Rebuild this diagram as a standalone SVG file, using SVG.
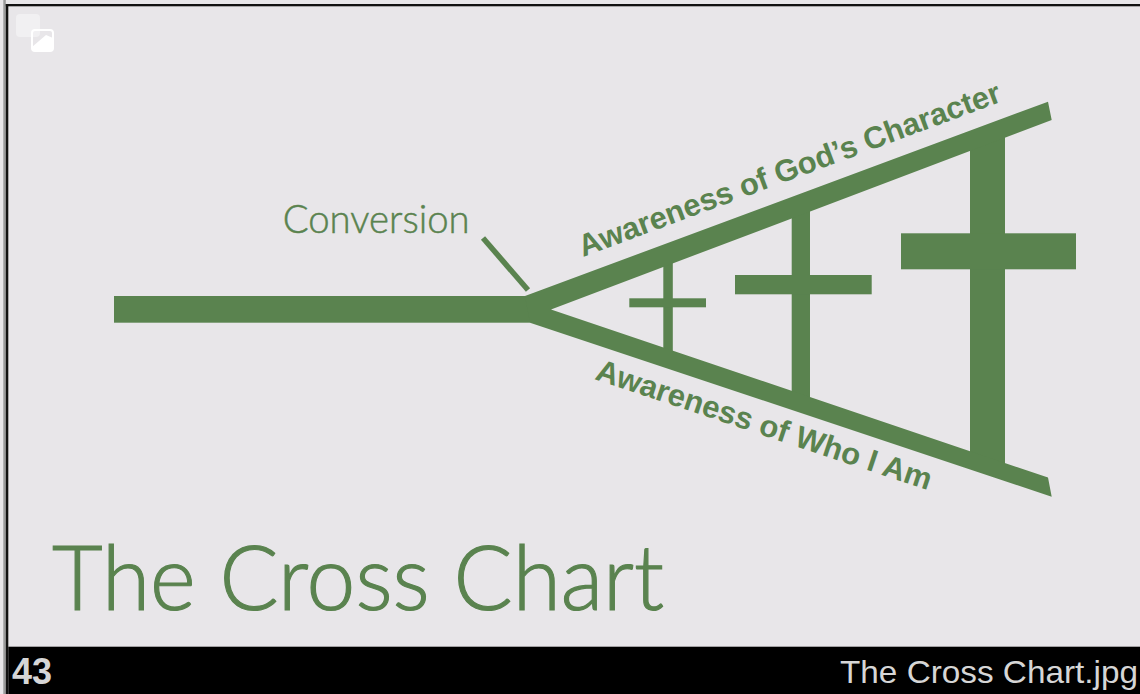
<svg xmlns="http://www.w3.org/2000/svg" width="1140" height="694" viewBox="0 0 1140 694">
  <style>
    .g { fill: #5a834f; }
    .lbl { font-family: "Liberation Sans", Arial, sans-serif; font-weight: bold; font-size: 30.8px; fill: #5a834f; }
    .thin { font-family: Lato, "Liberation Sans", Arial, sans-serif; font-weight: 300; fill: #5a834f; stroke: #5a834f; }
    .bar { font-family: "Liberation Sans", Arial, sans-serif; fill: #d6d6d6; }
  </style>
  <rect x="0" y="0" width="1140" height="694" fill="#e8e6e9"/>
  <!-- frame -->
  <rect x="3.3" y="0" width="2.5" height="694" fill="#9a9a9a"/>
  <rect x="5.8" y="4" width="1134.2" height="2.3" fill="#111"/>
  <rect x="5.8" y="4" width="2.5" height="690" fill="#111"/>
  <!-- broken image icon -->
  <g id="icon">
    <rect x="16" y="14" width="24" height="23" rx="4" fill="#f1f0f2"/>
    <rect x="32" y="30" width="21" height="21" rx="3" fill="none" stroke="#ffffff" stroke-width="2"/>
    <polygon points="32,51 32,47 46,35 53,38 53,51" fill="#ffffff"/>
  </g>
  <g id="horizontal-line">
    <rect class="g" x="114" y="296" width="416" height="26.7"/>
  </g>
  <g id="cross-small">
    <rect class="g" x="663.3" y="258" width="9.5" height="96"/>
    <rect class="g" x="629.3" y="298.3" width="76.7" height="9"/>
  </g>
  <g id="cross-medium">
    <rect class="g" x="791.7" y="205" width="18.3" height="195"/>
    <rect class="g" x="735" y="275" width="136.7" height="19.3"/>
  </g>
  <g id="cross-large">
    <rect class="g" x="970" y="136" width="35" height="330"/>
    <rect class="g" x="901" y="233.3" width="175" height="36"/>
  </g>
  <g id="branches">
    <polygon class="g" points="525,296 1048,101.7 1051.7,120 551,309.5 1048,477.6 1051.7,496.7 530,322.7"/>
  </g>
  <g id="label-god">
    <text class="lbl" x="583" y="257" transform="rotate(-20.38 583 257)" textLength="448" lengthAdjust="spacingAndGlyphs">Awareness of God’s Character</text>
  </g>
  <g id="label-me">
    <text class="lbl" x="594" y="379" transform="rotate(18.43 594 379)" textLength="352" lengthAdjust="spacingAndGlyphs">Awareness of Who I Am</text>
  </g>
  <g id="label-conversion">
    <text class="thin" x="282.7" y="233.3" font-size="39" stroke-width="0.5" textLength="187" lengthAdjust="spacingAndGlyphs">Conversion</text>
  </g>
  <g id="connectors">
    <line x1="483" y1="238" x2="528" y2="290" stroke="#5a834f" stroke-width="5.5"/>
  </g>
  <g id="title">
    <text class="thin" x="52" y="610" font-size="90" stroke-width="1.2" textLength="612" lengthAdjust="spacingAndGlyphs">The Cross Chart</text>
  </g>
  <g id="footer">
    <rect x="8.3" y="646.7" width="1131.7" height="47.3" fill="#000"/>
    <text class="bar" x="12" y="684" font-size="36" font-weight="bold">43</text>
    <text class="bar" x="840" y="683.3" font-size="32" textLength="298" lengthAdjust="spacingAndGlyphs">The Cross Chart.jpg</text>
  </g>
</svg>
